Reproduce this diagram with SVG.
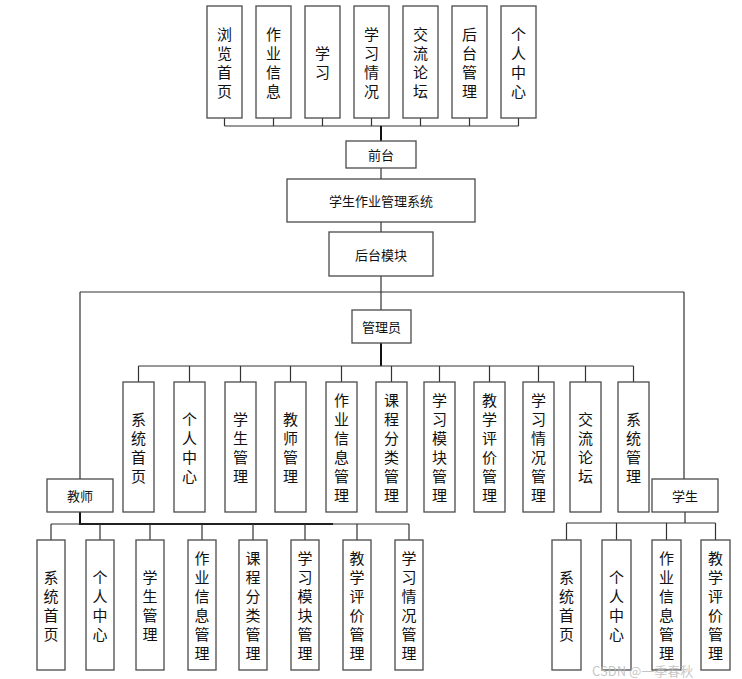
<svg xmlns="http://www.w3.org/2000/svg" width="742" height="679" viewBox="0 0 742 679">
<style>
.b{fill:#fff;stroke:#4a4a4a;stroke-width:1.3}
.t{font-family:"Noto Sans CJK SC","Noto Sans",sans-serif;font-size:15px;fill:#111;text-anchor:middle;dominant-baseline:central}
.h{font-size:13px}
.c{fill:none;stroke:#333;stroke-width:1.2}
.k{fill:none;stroke:#111;stroke-width:2}
.w{font-family:"Noto Sans CJK SC","Liberation Sans",sans-serif;font-size:13px;fill:#bbb;fill-opacity:0.85}
</style>
<rect width="742" height="679" fill="#fff"/>
<g id="connectors">
<path class="c" d="M224.5 118V126M273.5 118V126M322.5 118V126M371.5 118V126M420.5 118V126M469.5 118V126M518.5 118V126M224.5 126H518.5"/>
<path class="k" d="M381 126V141"/>
<path class="c" d="M381 168V179M381 222V232M381 276V310M80 292H684M80 292V479M684 292V479"/>
<path class="k" d="M381 343V366"/>
<path class="c" d="M138.5 366H633.5M138.5 366V382M189.5 366V382M240.5 366V382M290.5 366V382M341.5 366V382M391.5 366V382M439.5 366V382M489.5 366V382M538.5 366V382M585.5 366V382M633.5 366V382"/>
<path class="k" d="M80 512V524H333"/>
<path class="c" d="M51 524H409M51 524V540M100 524V540M150 524V540M202 524V540M253 524V540M305 524V540M357 524V540M409 524V540"/>
<path class="c" d="M685 512V523M566.5 523H715.5M566.5 523V540M616.5 523V540M666.5 523V540M715.5 523V540"/>
</g>
<g id="top-liulan"><rect class="b" x="207" y="6" width="35" height="112"/><text class="t" x="224.5 224.5 224.5 224.5" y="33.5 52.5 71.5 90.5">浏览首页</text></g>
<g id="top-zuoye"><rect class="b" x="256" y="6" width="35" height="112"/><text class="t" x="273.5 273.5 273.5 273.5" y="33.5 52.5 71.5 90.5">作业信息</text></g>
<g id="top-xuexi"><rect class="b" x="305" y="6" width="35" height="112"/><text class="t" x="322.5 322.5" y="52.5 71.5">学习</text></g>
<g id="top-qingkuang"><rect class="b" x="354" y="6" width="35" height="112"/><text class="t" x="371.5 371.5 371.5 371.5" y="33.5 52.5 71.5 90.5">学习情况</text></g>
<g id="top-luntan"><rect class="b" x="403" y="6" width="35" height="112"/><text class="t" x="420.5 420.5 420.5 420.5" y="33.5 52.5 71.5 90.5">交流论坛</text></g>
<g id="top-houtai"><rect class="b" x="452" y="6" width="35" height="112"/><text class="t" x="469.5 469.5 469.5 469.5" y="33.5 52.5 71.5 90.5">后台管理</text></g>
<g id="top-geren"><rect class="b" x="501" y="6" width="35" height="112"/><text class="t" x="518.5 518.5 518.5 518.5" y="33.5 52.5 71.5 90.5">个人中心</text></g>
<g id="qiantai"><rect class="b" x="346" y="141" width="70" height="27"/><text class="t h" x="381" y="154.5">前台</text></g>
<g id="system"><rect class="b" x="287" y="179" width="188" height="43"/><text class="t h" x="381" y="200.5">学生作业管理系统</text></g>
<g id="houtaimokuai"><rect class="b" x="329" y="232" width="104" height="44"/><text class="t h" x="381" y="254">后台模块</text></g>
<g id="admin"><rect class="b" x="352" y="310" width="59" height="33"/><text class="t h" x="381.5" y="326.5">管理员</text></g>
<g id="a1"><rect class="b" x="123" y="382" width="31" height="130"/><text class="t" x="138.5 138.5 138.5 138.5" y="418.5 437.5 456.5 475.5">系统首页</text></g>
<g id="a2"><rect class="b" x="174" y="382" width="31" height="130"/><text class="t" x="189.5 189.5 189.5 189.5" y="418.5 437.5 456.5 475.5">个人中心</text></g>
<g id="a3"><rect class="b" x="225" y="382" width="31" height="130"/><text class="t" x="240.5 240.5 240.5 240.5" y="418.5 437.5 456.5 475.5">学生管理</text></g>
<g id="a4"><rect class="b" x="275" y="382" width="31" height="130"/><text class="t" x="290.5 290.5 290.5 290.5" y="418.5 437.5 456.5 475.5">教师管理</text></g>
<g id="a5"><rect class="b" x="326" y="382" width="31" height="130"/><text class="t" x="341.5 341.5 341.5 341.5 341.5 341.5" y="399.5 418.5 437.5 456.5 475.5 494.5">作业信息管理</text></g>
<g id="a6"><rect class="b" x="376" y="382" width="31" height="130"/><text class="t" x="391.5 391.5 391.5 391.5 391.5 391.5" y="399.5 418.5 437.5 456.5 475.5 494.5">课程分类管理</text></g>
<g id="a7"><rect class="b" x="424" y="382" width="31" height="130"/><text class="t" x="439.5 439.5 439.5 439.5 439.5 439.5" y="399.5 418.5 437.5 456.5 475.5 494.5">学习模块管理</text></g>
<g id="a8"><rect class="b" x="474" y="382" width="31" height="130"/><text class="t" x="489.5 489.5 489.5 489.5 489.5 489.5" y="399.5 418.5 437.5 456.5 475.5 494.5">教学评价管理</text></g>
<g id="a9"><rect class="b" x="523" y="382" width="31" height="130"/><text class="t" x="538.5 538.5 538.5 538.5 538.5 538.5" y="399.5 418.5 437.5 456.5 475.5 494.5">学习情况管理</text></g>
<g id="a10"><rect class="b" x="570" y="382" width="31" height="130"/><text class="t" x="585.5 585.5 585.5 585.5" y="418.5 437.5 456.5 475.5">交流论坛</text></g>
<g id="a11"><rect class="b" x="618" y="382" width="31" height="130"/><text class="t" x="633.5 633.5 633.5 633.5" y="418.5 437.5 456.5 475.5">系统管理</text></g>
<g id="teacher"><rect class="b" x="47" y="479" width="66" height="33"/><text class="t h" x="80" y="495.5">教师</text></g>
<g id="student"><rect class="b" x="652" y="479" width="66" height="33"/><text class="t h" x="685" y="495.5">学生</text></g>
<g id="t1"><rect class="b" x="37" y="540" width="28" height="130"/><text class="t" x="51 51 51 51" y="576.5 595.5 614.5 633.5">系统首页</text></g>
<g id="t2"><rect class="b" x="86" y="540" width="28" height="130"/><text class="t" x="100 100 100 100" y="576.5 595.5 614.5 633.5">个人中心</text></g>
<g id="t3"><rect class="b" x="136" y="540" width="28" height="130"/><text class="t" x="150 150 150 150" y="576.5 595.5 614.5 633.5">学生管理</text></g>
<g id="t4"><rect class="b" x="188" y="540" width="28" height="130"/><text class="t" x="202 202 202 202 202 202" y="557.5 576.5 595.5 614.5 633.5 652.5">作业信息管理</text></g>
<g id="t5"><rect class="b" x="239" y="540" width="28" height="130"/><text class="t" x="253 253 253 253 253 253" y="557.5 576.5 595.5 614.5 633.5 652.5">课程分类管理</text></g>
<g id="t6"><rect class="b" x="291" y="540" width="28" height="130"/><text class="t" x="305 305 305 305 305 305" y="557.5 576.5 595.5 614.5 633.5 652.5">学习模块管理</text></g>
<g id="t7"><rect class="b" x="343" y="540" width="28" height="130"/><text class="t" x="357 357 357 357 357 357" y="557.5 576.5 595.5 614.5 633.5 652.5">教学评价管理</text></g>
<g id="t8"><rect class="b" x="395" y="540" width="28" height="130"/><text class="t" x="409 409 409 409 409 409" y="557.5 576.5 595.5 614.5 633.5 652.5">学习情况管理</text></g>
<g id="s1"><rect class="b" x="552" y="540" width="29" height="130"/><text class="t" x="566.5 566.5 566.5 566.5" y="576.5 595.5 614.5 633.5">系统首页</text></g>
<g id="s2"><rect class="b" x="602" y="540" width="29" height="130"/><text class="t" x="616.5 616.5 616.5 616.5" y="576.5 595.5 614.5 633.5">个人中心</text></g>
<g id="s3"><rect class="b" x="652" y="540" width="29" height="130"/><text class="t" x="666.5 666.5 666.5 666.5 666.5 666.5" y="557.5 576.5 595.5 614.5 633.5 652.5">作业信息管理</text></g>
<g id="s4"><rect class="b" x="701" y="540" width="29" height="130"/><text class="t" x="715.5 715.5 715.5 715.5 715.5 715.5" y="557.5 576.5 595.5 614.5 633.5 652.5">教学评价管理</text></g>
<text class="w" x="592" y="676">CSDN @一季春秋</text>
</svg>
